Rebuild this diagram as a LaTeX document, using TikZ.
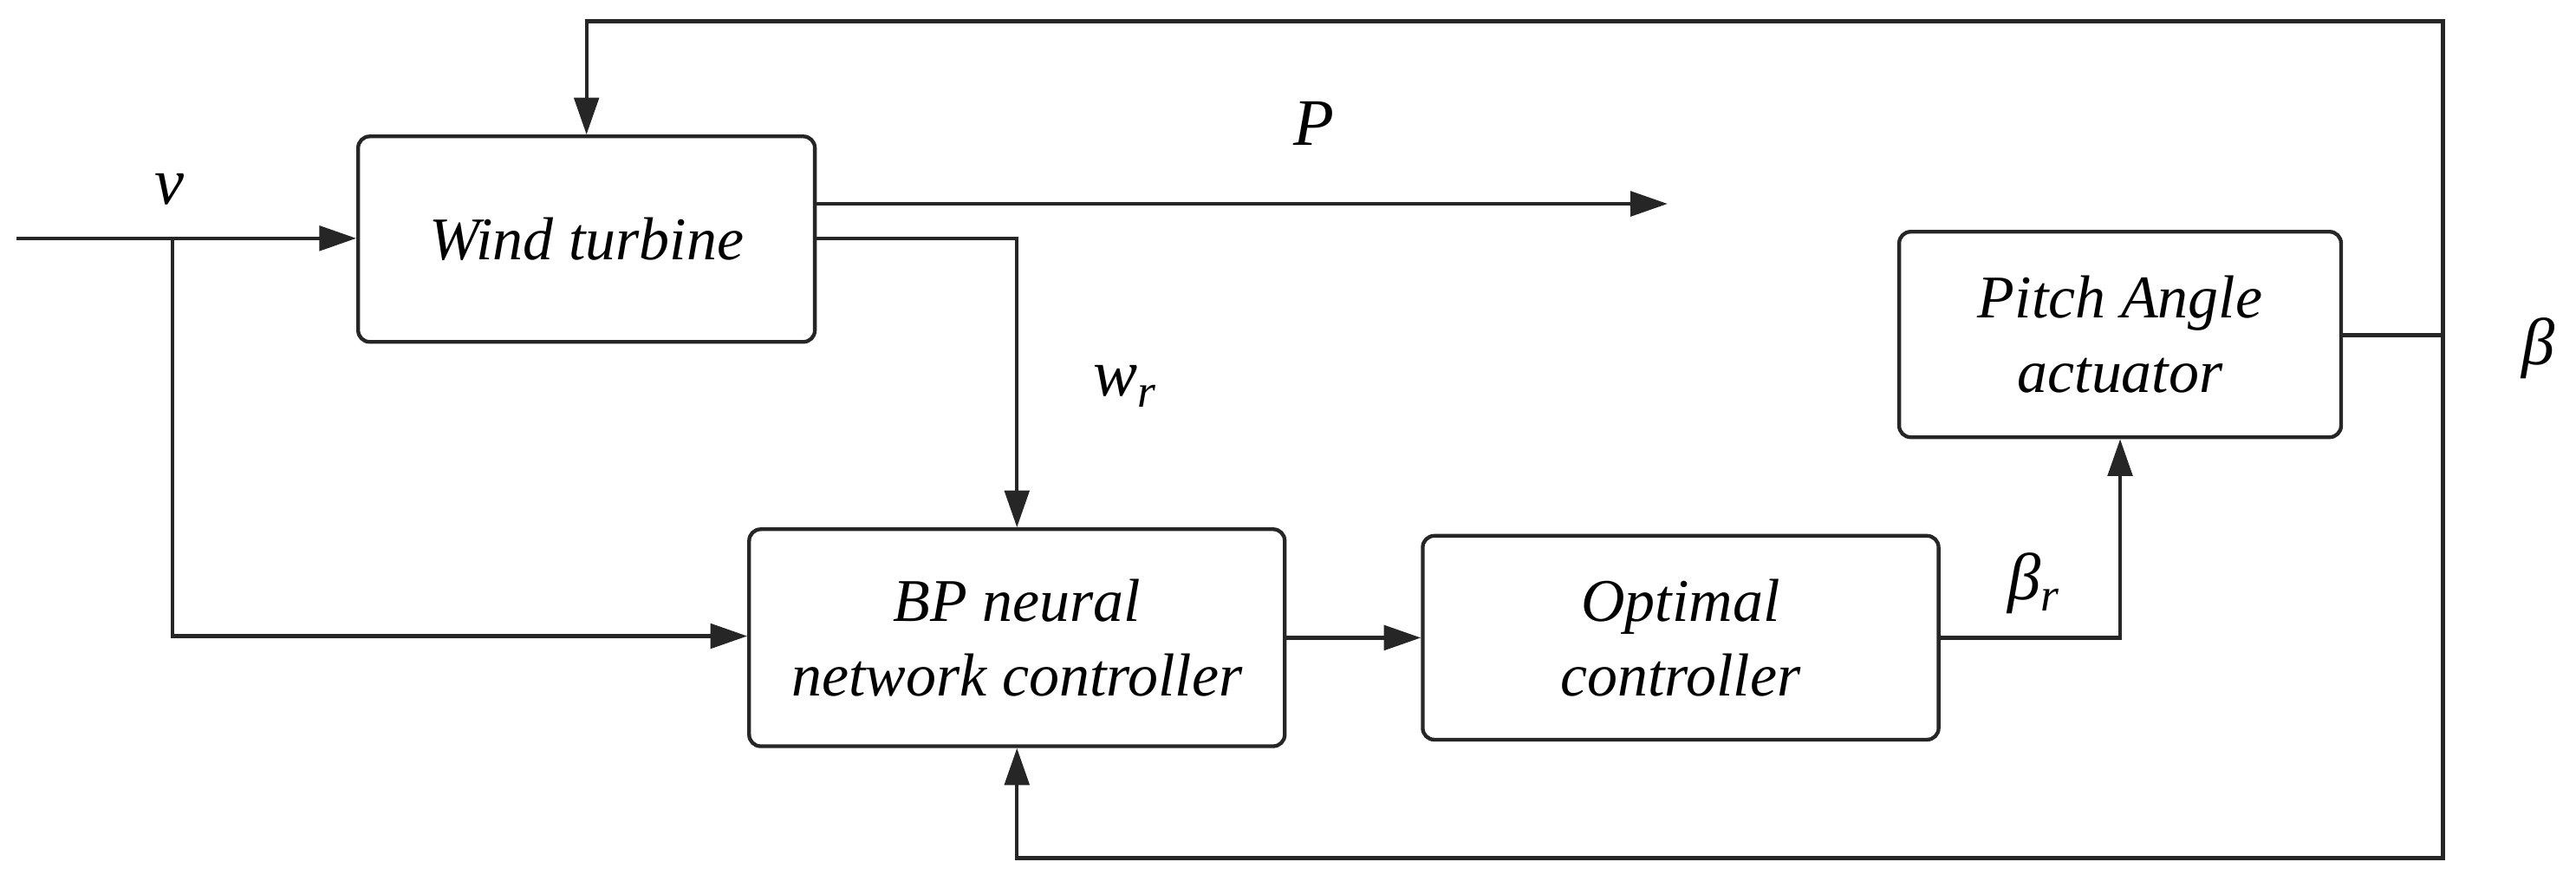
\documentclass[tikz,border=0pt]{standalone}
\usepackage{fontspec}
\setmainfont{Liberation Serif}
\usetikzlibrary{arrows.meta}
\begin{document}
\begin{tikzpicture}[x=0.02cm,y=-0.02cm,
  blk/.style={draw=black!85,line width=1.3pt,rounded corners=0.14cm,align=center,font=\fontsize{21}{26}\selectfont\itshape,inner sep=0pt},
  ln/.style={draw=black!85,line width=1.3pt},
  ar/.style={ln,-{Triangle[length=0.45cm,width=0.3cm]}},
  lbl/.style={font=\fontsize{23}{27}\selectfont\itshape}]
\useasboundingbox (0,0) rectangle (1568,540);
\node[blk,minimum width=278*0.02cm,minimum height=125*0.02cm] (wt) at (357,145.5) {Wind turbine};
\node[blk,minimum width=269*0.02cm,minimum height=125*0.02cm] (pa) at (1290.5,203.5) {Pitch Angle\\actuator};
\node[blk,minimum width=326*0.02cm,minimum height=132*0.02cm] (bp) at (619,388) {BP neural\\network controller};
\node[blk,minimum width=314*0.02cm,minimum height=124*0.02cm] (oc) at (1023,388) {Optimal\\controller};
\coordinate (in) at (10,145);
\coordinate (br) at (105,145);
\coordinate (pend) at (1015,124);
\coordinate (fb) at (1487,204);
\draw[ar] (in) -- (wt.west|-in);
\draw[ar] (br) |- (bp.west|-0,387);
\draw[ar] (wt.east|-pend) -- (pend);
\draw[ar] (wt.east|-0,145) -| (bp.north);
\draw[ar] (bp.east) -- (oc.west);
\draw[ar] (oc.east) -| (pa.south);
\draw[ln] (pa.east|-fb) -- (fb);
\draw[ar] (fb) -- (1487,13) -| (wt.north);
\draw[ar] (fb) -- (1487,522) -| (bp.south);
\node[lbl] (v) at (103,115) {v};
\node[lbl] (p) at (800,75) {P};
\node[lbl] (w) at (685,235) {w\textsubscript{r}};
\node[lbl] (b) at (1238,355) {β\textsubscript{r}};
\node[lbl] (bb) at (1545,212) {β};
\end{tikzpicture}
\end{document}
